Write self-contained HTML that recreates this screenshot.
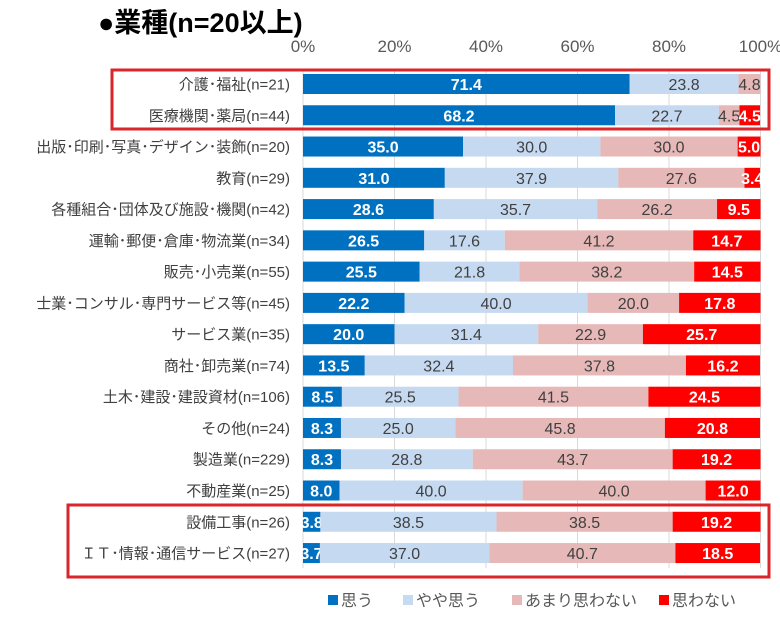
<!DOCTYPE html>
<html><head><meta charset="utf-8"><style>
body{margin:0;background:#fff;}
svg text{font-family:"Liberation Sans","Noto Sans CJK JP",sans-serif;}
</style></head><body>
<svg id="c" width="780" height="618" xmlns="http://www.w3.org/2000/svg">
<text x="98" y="32" font-size="27" font-weight="bold" fill="#000">●業種(n=20以上)</text>
<g id="grid"></g><g id="bars"></g><g id="labels"></g>
<rect x="112" y="70" width="657" height="59" fill="none" stroke="#D9262B" stroke-width="3"/>
<rect x="68" y="505" width="701" height="72" fill="none" stroke="#D9262B" stroke-width="3"/>
<g id="legend"></g>
</svg>
<script>
const categories=["介護･福祉(n=21)","医療機関･薬局(n=44)","出版･印刷･写真･デザイン･装飾(n=20)","教育(n=29)","各種組合･団体及び施設･機関(n=42)","運輸･郵便･倉庫･物流業(n=34)","販売･小売業(n=55)","士業･コンサル･専門サービス等(n=45)","サービス業(n=35)","商社･卸売業(n=74)","土木･建設･建設資材(n=106)","その他(n=24)","製造業(n=229)","不動産業(n=25)","設備工事(n=26)","ＩＴ･情報･通信サービス(n=27)"];
const omou=[71.4,68.2,35.0,31.0,28.6,26.5,25.5,22.2,20.0,13.5,8.5,8.3,8.3,8.0,3.8,3.7];
const yaya=[23.8,22.7,30.0,37.9,35.7,17.6,21.8,40.0,31.4,32.4,25.5,25.0,28.8,40.0,38.5,37.0];
const amari=[4.8,4.5,30.0,27.6,26.2,41.2,38.2,20.0,22.9,37.8,41.5,45.8,43.7,40.0,38.5,40.7];
const omowanai=[0,4.5,5.0,3.4,9.5,14.7,14.5,17.8,25.7,16.2,24.5,20.8,19.2,12.0,19.2,18.5];
const ticks=["0%","20%","40%","60%","80%","100%"];
const seriesNames=["思う","やや思う","あまり思わない","思わない"];
const colors=["#0070C0","#C5D9F1","#E6B9B8","#FF0000"];
const textColors=["#fff","#404040","#404040","#fff"];
const NS="http://www.w3.org/2000/svg";
const x0=303,x1=760.5,yTop=84,step=31.27,bh=20;
const xs=v=>x0+(x1-x0)*v/100;
const ys=i=>yTop+i*step;
function mk(t,a,p){const e=document.createElementNS(NS,t);for(const k in a)e.setAttribute(k,a[k]);p.appendChild(e);return e;}
const grid=document.getElementById('grid'),bars=document.getElementById('bars'),labels=document.getElementById('labels'),legend=document.getElementById('legend');
ticks.forEach((t,i)=>{const x=xs(i*20);
 const l=mk('line',{x1:x,x2:x,y1:ys(0)-bh/2-5,y2:ys(15)+bh/2+5,stroke:'#d9d9d9','stroke-width':1},grid);
 
 
 const tx=mk('text',{x:x,y:52,'font-size':17,fill:'#595959','text-anchor':'middle'},grid);tx.textContent=t;
 
 
});
const series=[omou,yaya,amari,omowanai];
categories.forEach((c,i)=>{const y=ys(i);
 const lb=mk('text',{x:290,y:y+5.5,'font-size':15,fill:'#404040','text-anchor':'end'},labels);lb.textContent=c;
 
 
 let acc=0;
 series.forEach((s,k)=>{const v=s[i];if(v<=0)return;
  const r=mk('rect',{x:xs(acc),y:y-bh/2,width:xs(acc+v)-xs(acc),height:bh,fill:colors[k]},bars);
  
  
  const t=mk('text',{x:(xs(acc)+xs(acc+v))/2,y:y+6,'font-size':16,fill:textColors[k],'text-anchor':'middle','font-weight':(k==0||k==3)?'bold':'normal'},bars);
  t.textContent=v.toFixed(1);
  
  
  acc+=v;});
});
const lx=[328,403,512,659];
seriesNames.forEach((n,k)=>{
 const r=mk('rect',{x:lx[k],y:595,width:10,height:10,fill:colors[k]},legend);
 
 
 const t=mk('text',{x:lx[k]+13,y:606,'font-size':16,fill:'#595959'},legend);t.textContent=n;
 
 
});
</script>
</body></html>
